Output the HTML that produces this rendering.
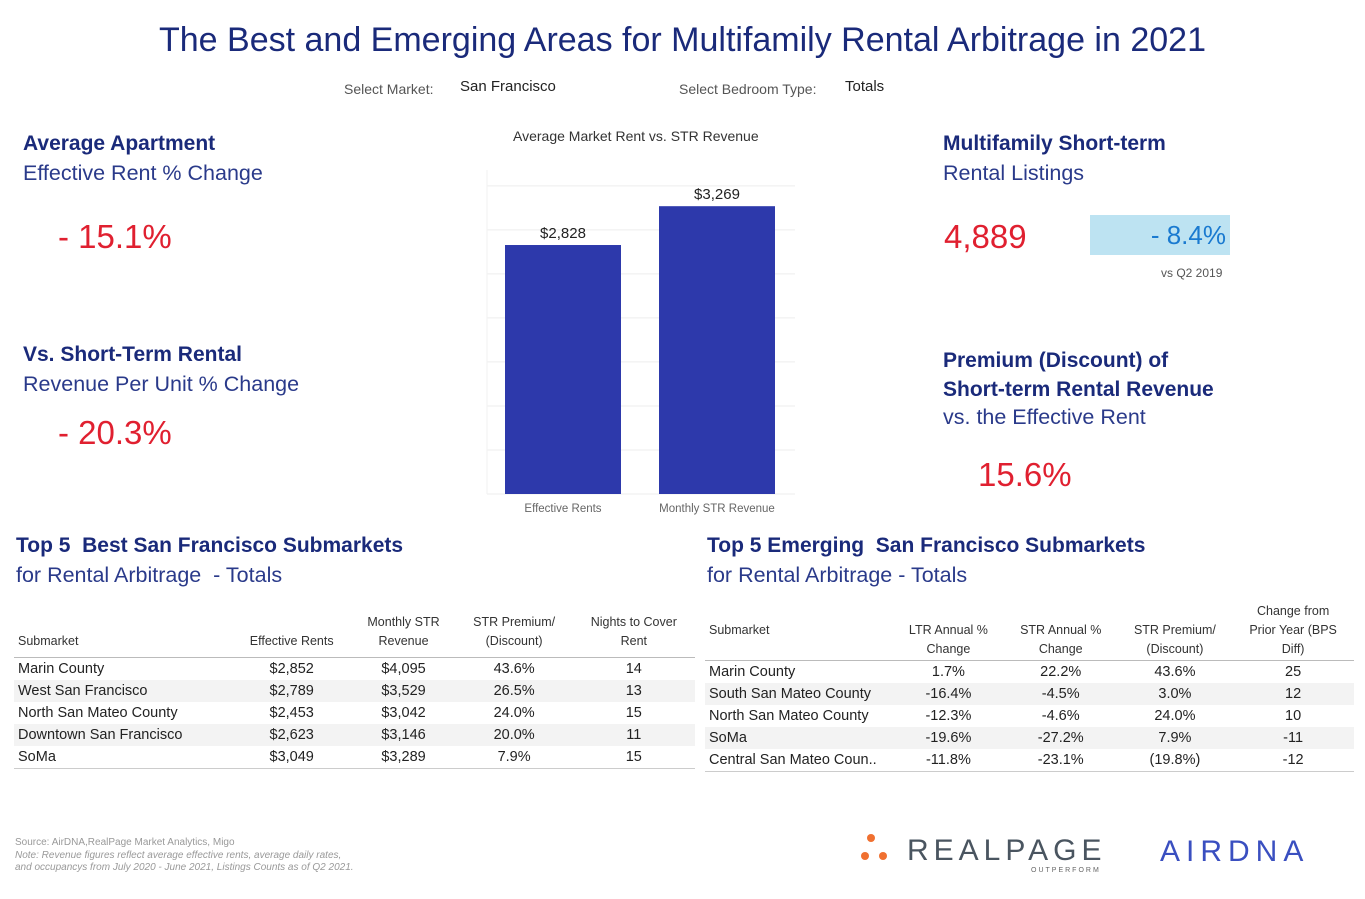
<!DOCTYPE html>
<html><head><meta charset="utf-8"><style>
body{margin:0;width:1365px;height:899px;background:#fff;font-family:"Liberation Sans",sans-serif;position:relative;overflow:hidden}
.a{position:absolute;white-space:nowrap}
.navy{color:#1a2a7a}
.h{font-weight:bold;font-size:21px;color:#1a2a7a}
.s{font-size:21.5px;color:#2a3a8a}
.red{color:#e02030}
table{border-collapse:collapse;font-size:14.5px;color:#222}
td,th{padding:0 4px;height:22px}
th{font-weight:normal;font-size:12.5px;color:#333;line-height:19px;vertical-align:bottom;padding-bottom:6px;border-bottom:1px solid #bbb}
#t2 th{padding-bottom:1px}
tr.g td{background:#f3f3f3}
tr:last-child td{border-bottom:1px solid #ccc}
td.c,th.c{text-align:center}
</style></head><body>
<div class="a navy" style="left:0;width:1365px;text-align:center;top:21px;font-size:34px">The Best and Emerging Areas for Multifamily Rental Arbitrage in 2021</div>
<div class="a" style="left:344px;top:81px;font-size:14px;color:#555">Select Market:</div>
<div class="a" style="left:460px;top:78px;font-size:15px;color:#222">San Francisco</div>
<div class="a" style="left:679px;top:81px;font-size:14px;color:#555">Select Bedroom Type:</div>
<div class="a" style="left:845px;top:78px;font-size:15px;color:#222">Totals</div>

<div class="a h" style="left:23px;top:132px">Average Apartment</div>
<div class="a s" style="left:23px;top:161px">Effective Rent % Change</div>
<div class="a red" style="left:58px;top:218px;font-size:33px">- 15.1%</div>
<div class="a h" style="left:23px;top:343px">Vs. Short-Term Rental</div>
<div class="a s" style="left:23px;top:372px">Revenue Per Unit % Change</div>
<div class="a red" style="left:58px;top:414px;font-size:33px">- 20.3%</div>

<div class="a" style="left:513px;top:128px;font-size:14px;color:#333">Average Market Rent vs. STR Revenue</div>
<svg class="a" style="left:0;top:0" width="1365" height="899">
<g id="chart"></g></svg>

<div class="a h" style="left:943px;top:132px">Multifamily Short-term</div>
<div class="a s" style="left:943px;top:161px">Rental Listings</div>
<div class="a red" style="left:944px;top:218px;font-size:33px">4,889</div>
<div class="a" style="left:1090px;top:215px;width:140px;height:40px;background:#bde3f2;color:#1a7ad0;font-size:26px;text-align:right;line-height:40px;box-sizing:border-box;padding-right:4px">- 8.4%</div>
<div class="a" style="left:1161px;top:266px;font-size:12px;color:#555">vs Q2 2019</div>
<div class="a h" style="left:943px;top:346px;line-height:29px">Premium (Discount) of<br>Short-term Rental Revenue</div>
<div class="a s" style="left:943px;top:405px">vs. the Effective Rent</div>
<div class="a red" style="left:978px;top:456px;font-size:33px">15.6%</div>

<div class="a h" style="left:16px;top:534px">Top 5&nbsp; Best San Francisco Submarkets</div>
<div class="a s" style="left:16px;top:563px">for Rental Arbitrage&nbsp; - Totals</div>
<table class="a" style="left:14px;top:613px;width:681px">
<tr><th style="text-align:left;width:210px">Submarket</th><th class="c">Effective Rents</th><th class="c">Monthly STR<br>Revenue</th><th class="c">STR Premium/<br>(Discount)</th><th class="c">Nights to Cover<br>Rent</th></tr>
<tr><td>Marin County</td><td class="c">$2,852</td><td class="c">$4,095</td><td class="c">43.6%</td><td class="c">14</td></tr>
<tr class="g"><td>West San Francisco</td><td class="c">$2,789</td><td class="c">$3,529</td><td class="c">26.5%</td><td class="c">13</td></tr>
<tr><td>North San Mateo County</td><td class="c">$2,453</td><td class="c">$3,042</td><td class="c">24.0%</td><td class="c">15</td></tr>
<tr class="g"><td>Downtown San Francisco</td><td class="c">$2,623</td><td class="c">$3,146</td><td class="c">20.0%</td><td class="c">11</td></tr>
<tr><td>SoMa</td><td class="c">$3,049</td><td class="c">$3,289</td><td class="c">7.9%</td><td class="c">15</td></tr>
</table>

<div class="a h" style="left:707px;top:534px">Top 5 Emerging&nbsp; San Francisco Submarkets</div>
<div class="a s" style="left:707px;top:563px">for Rental Arbitrage - Totals</div>
<table id="t2" class="a" style="left:705px;top:602px;width:649px">
<tr><th style="text-align:left;width:180px;vertical-align:middle">Submarket</th><th class="c">LTR Annual %<br>Change</th><th class="c">STR Annual %<br>Change</th><th class="c">STR Premium/<br>(Discount)</th><th class="c">Change from<br>Prior Year (BPS<br>Diff)</th></tr>
<tr><td>Marin County</td><td class="c">1.7%</td><td class="c">22.2%</td><td class="c">43.6%</td><td class="c">25</td></tr>
<tr class="g"><td>South San Mateo County</td><td class="c">-16.4%</td><td class="c">-4.5%</td><td class="c">3.0%</td><td class="c">12</td></tr>
<tr><td>North San Mateo County</td><td class="c">-12.3%</td><td class="c">-4.6%</td><td class="c">24.0%</td><td class="c">10</td></tr>
<tr class="g"><td>SoMa</td><td class="c">-19.6%</td><td class="c">-27.2%</td><td class="c">7.9%</td><td class="c">-11</td></tr>
<tr><td>Central San Mateo Coun..</td><td class="c">-11.8%</td><td class="c">-23.1%</td><td class="c">(19.8%)</td><td class="c">-12</td></tr>
</table>

<div class="a" style="left:15px;top:837px;font-size:10px;color:#999;line-height:12.5px">Source: AirDNA,RealPage Market Analytics, Migo<br><i>Note: Revenue figures reflect average effective rents, average daily rates,<br>and occupancys from July 2020 - June 2021, Listings Counts as of Q2 2021.</i></div>

<div class="a" style="left:863px;top:832px;width:250px;height:45px">
<span class="a" style="left:4px;top:2px;width:8px;height:8px;border-radius:50%;background:#f07030"></span>
<span class="a" style="left:-2px;top:20px;width:8px;height:8px;border-radius:50%;background:#f07030"></span>
<span class="a" style="left:16px;top:20px;width:8px;height:8px;border-radius:50%;background:#f07030"></span>
<span class="a" style="left:44px;top:2px;font-size:30px;letter-spacing:5px;color:#4a5560">REALPAGE</span>
<span class="a" style="left:168px;top:35px;font-size:7px;letter-spacing:2px;color:#666">OUTPERFORM</span>
</div>
<div class="a" style="left:1160px;top:835px;font-size:30px;letter-spacing:6px;color:#3a4fc0">AIRDNA</div>

<script>
const categories=["Effective Rents","Monthly STR Revenue"];
const values=[2828,3269];
const labels=["$2,828","$3,269"];
const yTicks=[0,500,1000,1500,2000,2500,3000,3500];
const g=document.getElementById('chart');
const NS="http://www.w3.org/2000/svg";
const x0=487,x1=795,yB=494,yT=170,yMax=3680;
const y=v=>yB-(v/yMax)*(yB-yT);
const band=(x1-x0)/categories.length;
const xb=i=>x0+i*band+18;
const bw=band-38;
function mk(t,a){const e=document.createElementNS(NS,t);for(const k in a)e.setAttribute(k,a[k]);g.appendChild(e);return e;}
yTicks.forEach(v=>{const l=mk('line',{x1:x0,x2:x1,y1:y(v),y2:y(v),stroke:'#eee'});

});
mk('line',{x1:x0,x2:x0,y1:yT,y2:yB,stroke:'#f2f2f2'});
values.forEach((v,i)=>{
const r=mk('rect',{x:xb(i),y:y(v),width:bw,height:yB-y(v),fill:'#2d39ab'});


const t=mk('text',{x:xb(i)+bw/2,y:y(v)-7,'text-anchor':'middle','font-size':15,fill:'#222','font-family':'Liberation Sans'});t.textContent=labels[i];


const c=mk('text',{x:xb(i)+bw/2,y:512,'text-anchor':'middle','font-size':11.5,fill:'#666','font-family':'Liberation Sans'});c.textContent=categories[i];


});
</script>
</body></html>
